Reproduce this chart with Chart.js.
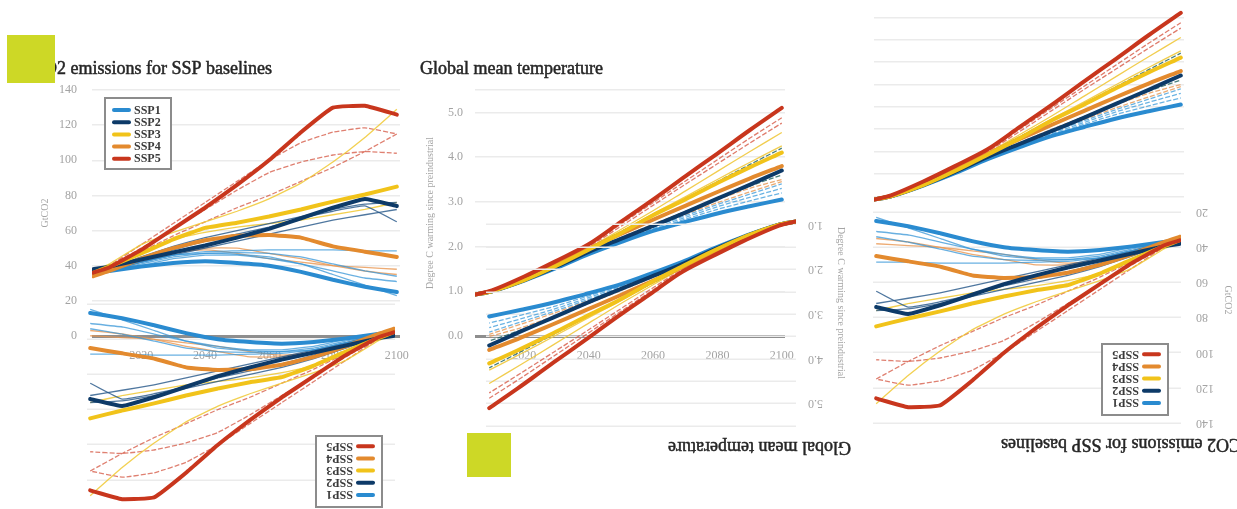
<!DOCTYPE html>
<html><head><meta charset="utf-8">
<script src="https://cdn.jsdelivr.net/npm/chart.js@4.4.1/dist/chart.umd.min.js"></script>
<style>
html,body{margin:0;padding:0;background:#fff;width:1237px;height:509px;overflow:hidden;}
body{position:relative;}
.wrap{position:absolute;overflow:hidden;}
.wrap canvas{position:absolute !important;}
.rot{transform:rotate(180deg);}
.sq{position:absolute;background:#cdd826;}
</style></head><body>
<div class="wrap" style="left:0;top:0;width:420px;height:370px"><canvas id="c1" width="420" height="370" style="left:0;top:0"></canvas></div>
<div class="wrap" style="left:410px;top:0;width:395px;height:370px"><canvas id="c2" width="395" height="370" style="left:0;top:0"></canvas></div>
<div class="wrap" style="left:0;top:290px;width:405px;height:219px"><canvas id="c3" class="rot" width="420" height="370" style="left:67px;top:-55px"></canvas></div>
<div class="wrap" style="left:408px;top:205px;width:454px;height:304px"><canvas id="c4" class="rot" width="395" height="370" style="left:58px;top:-59px"></canvas></div>
<div class="wrap" style="left:868px;top:0;width:369px;height:205px"><canvas id="c5" width="395" height="370" style="left:-59px;top:-95px"></canvas></div>
<div class="wrap" style="left:868px;top:205px;width:369px;height:304px"><canvas id="c6" class="rot" width="420" height="370" style="left:-15px;top:-62px"></canvas></div>
<div class="sq" style="left:7px;top:35px;width:48px;height:48px"></div>
<div class="sq" style="left:467px;top:433px;width:44px;height:44px"></div>
<script>
// ---------- data ----------
const years = [2005, 2010, 2020, 2030, 2040, 2050, 2060, 2070, 2080, 2090, 2100];
const yearTicks = [2020, 2040, 2060, 2080, 2100];
const co2Ticks = [0, 20, 40, 60, 80, 100, 120, 140];
const tempTicks = [0, 1, 2, 3, 4, 5, 5.5];
const tempTicksHalf = [0, 0.5, 1, 1.5, 2, 2.5, 3, 3.5, 4, 4.5, 5, 5.5];
const sspNames = ['SSP1', 'SSP2', 'SSP3', 'SSP4', 'SSP5'];
const co2Title = 'CO2 emissions for SSP baselines';
const co2AxisTitle = 'GtCO2';
const tempTitle = 'Global mean temperature';
const tempAxisTitle = 'Degree C warming since preindustrial';

// CO2 emissions (GtCO2), marker scenarios
const co2Ssp1 = [36, 37, 39.5, 41.5, 42.5, 41.5, 40, 36.5, 32, 28, 25];
const co2Ssp2 = [38, 39.5, 43.5, 47.5, 51.5, 56, 61, 67, 73, 78, 74];
const co2Ssp3 = [36, 39.5, 47, 55, 61.5, 64.5, 68, 72, 76.5, 80.5, 85];
const co2Ssp4 = [34, 37, 44, 50, 54.5, 57, 57.5, 56, 51, 48, 45];
const co2Ssp5 = [36, 39, 49, 61, 73, 86, 100, 116, 130, 131, 126];
// other models
const co2Ssp1Alt = [
  [36, 38, 42, 46, 48, 48.5, 49, 49, 49, 48.5, 48.5],
  [35, 36.5, 40, 44, 46, 46, 44, 41, 37, 33, 31],
  [37, 38.5, 42, 46, 47, 46.5, 45, 41, 35, 29, 23],
  [36, 37.5, 41, 45, 47, 47.5, 47, 45, 41, 37, 34]
];
const co2Ssp2Alt = [
  [37, 38.5, 44, 49, 54, 58, 62, 67, 71, 74, 65],
  [36, 37.5, 42, 46, 50, 54, 58, 62, 66, 69, 72],
  [37, 39, 45, 51, 56, 60, 64, 68, 72, 75, 76]
];
const co2Ssp3Alt = [
  [37, 41, 52, 59, 65, 71, 78, 87, 99, 113, 129],
  [36, 40, 48, 55, 59, 62, 64, 66, 69, 72, 76]
];
const co2Ssp4Alt = [
  [34, 36.5, 42, 47, 50, 50, 47, 44, 40, 37, 35],
  [35, 37.5, 44, 48, 49, 47, 44, 42, 40, 39, 38]
];
const co2Ssp5Alt = [
  [37, 40, 52, 64, 76, 88, 100, 110, 116, 118.5, 115],
  [37, 40, 50, 61, 72, 83, 93, 99, 103, 105, 104],
  [36, 39, 48, 57, 65, 73, 80, 88, 96, 105, 115]
];

// Global mean temperature (deg C above preindustrial)
const tempSsp1 = [0.93, 1.00, 1.24, 1.52, 1.83, 2.10, 2.35, 2.55, 2.74, 2.90, 3.05];
const tempSsp2 = [0.93, 1.00, 1.25, 1.55, 1.88, 2.17, 2.46, 2.76, 3.07, 3.38, 3.70];
const tempSsp3 = [0.93, 1.00, 1.25, 1.57, 1.93, 2.30, 2.70, 3.05, 3.42, 3.77, 4.10];
const tempSsp4 = [0.93, 1.01, 1.27, 1.60, 1.95, 2.28, 2.60, 2.91, 3.22, 3.52, 3.80];
const tempSsp5 = [0.93, 1.02, 1.33, 1.68, 2.05, 2.55, 3.05, 3.57, 4.08, 4.60, 5.10];
const tempSsp1Alt = [
  [0.93, 1.00, 1.24, 1.54, 1.86, 2.15, 2.43, 2.69, 2.94, 3.17, 3.40],
  [0.93, 1.00, 1.24, 1.53, 1.85, 2.13, 2.40, 2.65, 2.89, 3.10, 3.30],
  [0.93, 1.00, 1.23, 1.52, 1.84, 2.11, 2.37, 2.61, 2.83, 3.02, 3.20]
];
const tempSsp2Alt = [
  [0.93, 1.00, 1.25, 1.55, 1.88, 2.18, 2.48, 2.78, 3.07, 3.35, 3.60],
  [0.93, 1.00, 1.27, 1.60, 1.96, 2.33, 2.70, 3.07, 3.45, 3.83, 4.20]
];
const tempSsp3Alt = [
  [0.93, 1.01, 1.28, 1.61, 1.97, 2.38, 2.80, 3.24, 3.68, 4.12, 4.55],
  [0.93, 1.00, 1.26, 1.58, 1.95, 2.33, 2.73, 3.11, 3.50, 3.88, 4.25]
];
const tempSsp4Alt = [
  [0.93, 1.00, 1.25, 1.56, 1.89, 2.20, 2.50, 2.78, 3.05, 3.30, 3.50],
  [0.93, 1.00, 1.24, 1.54, 1.86, 2.16, 2.45, 2.72, 2.98, 3.22, 3.45]
];
const tempSsp5Alt = [
  [0.93, 1.02, 1.32, 1.67, 2.03, 2.50, 2.98, 3.46, 3.94, 4.42, 4.88],
  [0.93, 1.01, 1.31, 1.65, 2.00, 2.45, 2.92, 3.39, 3.85, 4.31, 4.76]
];

// ---------- styles ----------
const thickColors = ['#2a8bd0', '#0d3a68', '#f1c31a', '#e38a2e', '#c8361d'];
const thickOrder = [4, 2, 1, 3, 0];
const co2ThinStyle = [
  {c: 'rgba(55,150,215,0.75)', d: []},
  {c: 'rgba(35,85,135,0.8)', d: []},
  {c: 'rgba(240,200,50,0.85)', d: []},
  {c: 'rgba(232,150,80,0.8)', d: []},
  {c: 'rgba(212,85,65,0.75)', d: [5, 2]}
];
const tempThinStyle = [
  {c: 'rgba(70,160,220,0.8)', d: [5, 2]},
  {c: 'rgba(40,105,100,0.85)', d: [5, 2]},
  {c: 'rgba(240,200,60,0.9)', d: []},
  {c: 'rgba(232,155,90,0.85)', d: [5, 2]},
  {c: 'rgba(215,90,70,0.8)', d: [5, 2]}
];

function pts(vals) { return years.map((y, i) => ({x: y, y: vals[i]})); }

function buildSets(thick, alts, thinStyle, tension) {
  const sets = [];
  alts.forEach((group, k) => group.forEach(vals => sets.push({
    label: '', data: pts(vals), borderColor: thinStyle[k].c, borderDash: thinStyle[k].d,
    borderWidth: 1.3, pointRadius: 0, tension: tension, fill: false, order: 10
  })));
  thick.forEach((vals, k) => sets.push({
    label: sspNames[k], data: pts(vals), borderColor: thickColors[k], borderWidth: 4,
    borderCapStyle: 'round', borderJoinStyle: 'round',
    pointRadius: 0, tension: tension, fill: false, order: thickOrder[k]
  }));
  return sets;
}

const decor = {
  id: 'decor',
  afterDraw(chart, args, o) {
    const ctx = chart.ctx, ca = chart.chartArea;
    ctx.save();
    ctx.font = '18px "Liberation Serif"';
    ctx.fillStyle = '#262626';
    ctx.strokeStyle = '#262626';
    ctx.lineWidth = 0.5;
    ctx.textAlign = 'left';
    ctx.textBaseline = 'alphabetic';
    ctx.fillText(o.title, o.titleX, o.titleY);
    ctx.strokeText(o.title, o.titleX, o.titleY);
    ctx.save();
    ctx.translate(o.yTitleX, (ca.top + ca.bottom) / 2);
    ctx.rotate(-Math.PI / 2);
    ctx.font = '10px "Liberation Serif"';
    ctx.fillStyle = '#a5a5a5';
    ctx.textAlign = 'center';
    ctx.textBaseline = 'middle';
    ctx.fillText(o.yTitle, 0, 0);
    ctx.restore();
    if (o.legend) {
      const bx = ca.left + 13, by = ca.top + 8, bw = 66, bh = 71;
      ctx.fillStyle = '#fff';
      ctx.fillRect(bx, by, bw, bh);
      ctx.strokeStyle = '#8c8c8c';
      ctx.lineWidth = 2;
      ctx.strokeRect(bx, by, bw, bh);
      ctx.font = 'bold 12px "Liberation Serif"';
      ctx.textBaseline = 'middle';
      const thick = chart.data.datasets.filter(d => d.label);
      thick.forEach((d, i) => {
        const yy = by + 12 + i * 12.2;
        ctx.strokeStyle = d.borderColor;
        ctx.lineWidth = 4;
        ctx.lineCap = 'round';
        ctx.beginPath(); ctx.moveTo(bx + 9, yy); ctx.lineTo(bx + 24, yy); ctx.stroke();
        ctx.fillStyle = '#3a3a3a';
        ctx.fillText(d.label, bx + 29, yy + 0.5);
      });
    }
    ctx.restore();
  }
};

const tickFont = {family: '"Liberation Serif", serif', size: 12};
const tickColor = '#a3a3a3';

function gridOpts() {
  return {
    drawTicks: false,
    color: c => (c.tick && c.tick.value === 0) ? '#8e8e8e' : '#ebebeb',
    lineWidth: c => (c.tick && c.tick.value === 0) ? 3 : 1.5
  };
}

function makeCO2(id) {
  const sets = buildSets([co2Ssp1, co2Ssp2, co2Ssp3, co2Ssp4, co2Ssp5],
    [co2Ssp1Alt, co2Ssp2Alt, co2Ssp3Alt, co2Ssp4Alt, co2Ssp5Alt], co2ThinStyle, 0.1);
  return new Chart(document.getElementById(id), {
    type: 'line',
    data: {datasets: sets},
    plugins: [decor],
    options: {
      responsive: false, animation: false, devicePixelRatio: 1,
      layout: {padding: {left: 0, right: 20, top: 90, bottom: 0}},
      plugins: {
        legend: {display: false}, tooltip: {enabled: false}, title: {display: false},
        decor: {title: co2Title, titleX: 32, titleY: 74, yTitle: co2AxisTitle, yTitleX: 45, legend: true}
      },
      scales: {
        x: {
          type: 'linear', min: 2004.6, max: 2101,
          grid: {display: false}, border: {display: false},
          afterBuildTicks: s => { s.ticks = yearTicks.map(v => ({value: v})); },
          afterFit: s => { s.height = 34; },
          ticks: {padding: 5, maxRotation: 0, autoSkip: false, color: tickColor, font: tickFont, callback: v => String(v)}
        },
        y: {
          min: 0, max: 140,
          grid: gridOpts(), border: {display: false},
          afterBuildTicks: s => { s.ticks = co2Ticks.map(v => ({value: v})); },
          afterFit: s => { s.width = 92; },
          ticks: {padding: 15, color: tickColor, font: tickFont, callback: v => String(v)}
        }
      }
    }
  });
}

function makeTemp(id, tickList) {
  const sets = buildSets([tempSsp1, tempSsp2, tempSsp3, tempSsp4, tempSsp5],
    [tempSsp1Alt, tempSsp2Alt, tempSsp3Alt, tempSsp4Alt, tempSsp5Alt], tempThinStyle, 0.3);
  return new Chart(document.getElementById(id), {
    type: 'line',
    data: {datasets: sets},
    plugins: [decor],
    options: {
      responsive: false, animation: false, devicePixelRatio: 1,
      layout: {padding: {left: 0, right: 20, top: 90, bottom: 0}},
      plugins: {
        legend: {display: false}, tooltip: {enabled: false}, title: {display: false},
        decor: {title: tempTitle, titleX: 10, titleY: 74, yTitle: tempAxisTitle, yTitleX: 20, legend: false}
      },
      scales: {
        x: {
          type: 'linear', min: 2004.7, max: 2101,
          grid: {display: false}, border: {display: false},
          afterBuildTicks: s => { s.ticks = yearTicks.map(v => ({value: v})); },
          afterFit: s => { s.height = 34; },
          ticks: {padding: 5, maxRotation: 0, autoSkip: false, color: tickColor, font: tickFont, callback: v => String(v)}
        },
        y: {
          min: 0, max: 5.5,
          grid: gridOpts(), border: {display: false},
          afterBuildTicks: s => { s.ticks = tickList.map(v => ({value: v})); },
          afterFit: s => { s.width = 65; },
          ticks: {padding: 12, color: tickColor, font: tickFont,
                  callback: v => Number.isInteger(v) ? v.toFixed(1) : ''}
        }
      }
    }
  });
}

makeCO2('c1');
makeTemp('c2', tempTicks);
makeCO2('c3');
makeTemp('c4', tempTicksHalf);
makeTemp('c5', tempTicksHalf);
makeCO2('c6');
</script>
</body></html>
